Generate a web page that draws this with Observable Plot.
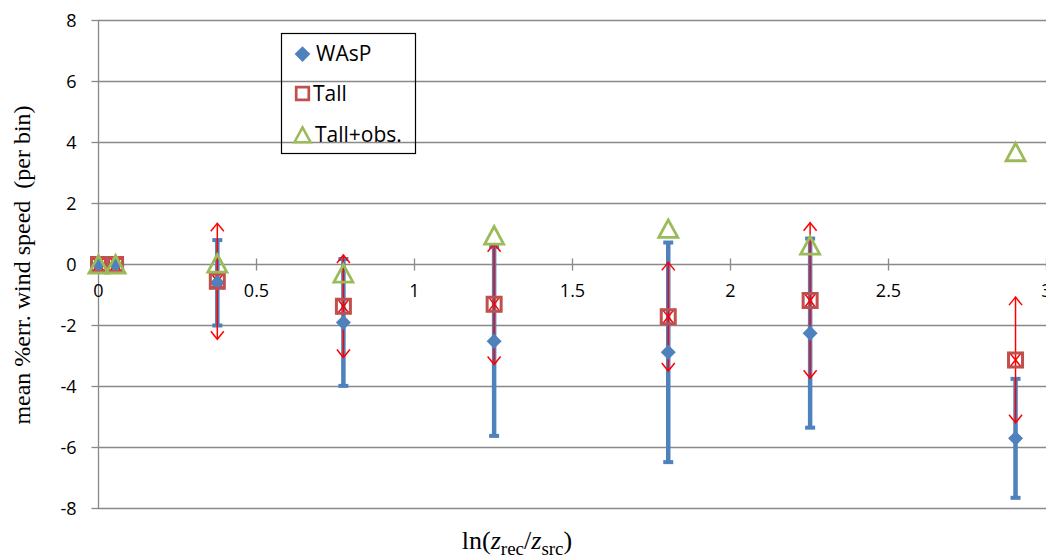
<!DOCTYPE html>
<html><head><meta charset="utf-8">
<script src="https://cdn.jsdelivr.net/npm/d3@7"></script>
<script src="https://cdn.jsdelivr.net/npm/@observablehq/plot@0.6"></script>
<style>body{margin:0;background:#fff} #chart{width:1046px;height:557px}</style>
</head><body><div id="chart"></div>
<script>
// ---- data ----
const xs      = [0, 0.054, 0.376, 0.775, 1.252, 1.803, 2.252, 2.902];
const wasp    = [0, 0, -0.6, -1.9, -2.52, -2.88, -2.25, -5.7];
const waspErr = [0, 0, 1.4, 2.08, 3.1, 3.6, 3.1, 1.95];
const tall    = [0, 0, -0.55, -1.37, -1.3, -1.71, -1.18, -3.13];
const tallErr = [0, 0, 1.9, 1.68, 1.98, 1.78, 2.55, 2.06];
const obs     = [0, 0, 0.03, -0.3, 0.95, 1.17, 0.62, 3.68];
const xTicks  = [0, 0.5, 1, 1.5, 2, 2.5, 3];
const yTicks  = [-8, -6, -4, -2, 0, 2, 4, 6, 8];
const seriesNames = ["WAsP", "Tall", "Tall+obs."];

const rows = xs.map((x, i) => ({x, wasp: wasp[i], waspErr: waspErr[i], tall: tall[i], tallErr: tallErr[i], obs: obs[i]}));

const blue = "#4F81BD", markerRed = "#C0504D", errRed = "#FF0000", green = "#9BBB59", grid = "#898989";

const diamond  = {draw(c){c.moveTo(0,-7.5);c.lineTo(7.5,0);c.lineTo(0,7.5);c.lineTo(-7.5,0);c.closePath();}};
const square   = {draw(c){c.rect(-7,-7,14,14);}};
const triangle = {draw(c){c.moveTo(0,-9);c.lineTo(9.5,8.5);c.lineTo(-9.5,8.5);c.closePath();}};
const chevUp   = {draw(c){c.moveTo(-6.5,8);c.lineTo(0,0);c.lineTo(6.5,8);}};
const chevDown = {draw(c){c.moveTo(-6.5,-8);c.lineTo(0,0);c.lineTo(6.5,-8);}};
const cap      = {draw(c){c.rect(-5,-2,10,4);}};
const vtick    = {draw(c){c.moveTo(0,-6);c.lineTo(0,6);}};
const htick    = {draw(c){c.moveTo(-7,0);c.lineTo(0,0);}};

const chart = Plot.plot({
  width: 1046, height: 557,
  marginLeft: 98, marginRight: 0, marginTop: 20, marginBottom: 49,
  x: {domain: [0, 3], axis: null},
  y: {domain: [-8, 8], axis: null},
  style: {fontFamily: "'Open Sans', sans-serif", fontSize: "18px", background: "#fff", color: "#000", overflow: "visible"},
  marks: [
    Plot.ruleY(yTicks, {stroke: grid, strokeWidth: 1.3}),
    Plot.ruleX([0], {stroke: grid, strokeWidth: 1.3}),
    Plot.dot(yTicks, {x: () => 0, y: d => d, symbol: htick, stroke: grid, strokeWidth: 1.3}),
    Plot.text(yTicks, {x: () => 0, y: d => d, text: d => String(d), textAnchor: "end", dx: -22, dy: 1, fontSize: 18, fill: "#000"}),
    Plot.dot(xTicks, {x: d => d, y: () => 0, symbol: vtick, stroke: grid, strokeWidth: 1.3}),
    Plot.text(xTicks, {x: d => d, y: () => 0, text: d => String(d), dy: 27, fontSize: 18, fill: "#000"}),
    // WAsP error bars
    Plot.ruleX(rows, {x: "x", y1: d => d.wasp - d.waspErr, y2: d => d.wasp + d.waspErr, stroke: blue, strokeWidth: 4.5}),
    Plot.dot(rows, {x: "x", y: d => d.wasp + d.waspErr, symbol: cap, fill: blue}),
    Plot.dot(rows, {x: "x", y: d => d.wasp - d.waspErr, symbol: cap, fill: blue}),
    // Tall error bars (arrows)
    Plot.ruleX(rows, {x: "x", y1: d => d.tall - d.tallErr, y2: d => d.tall + d.tallErr, stroke: errRed, strokeWidth: 1.5}),
    Plot.dot(rows, {x: "x", y: d => d.tall + d.tallErr, symbol: chevUp, fill: "none", stroke: errRed, strokeWidth: 1.5}),
    Plot.dot(rows, {x: "x", y: d => d.tall - d.tallErr, symbol: chevDown, fill: "none", stroke: errRed, strokeWidth: 1.5}),
    Plot.dot(rows, {x: "x", y: "tall", symbol: chevUp, fill: "none", stroke: errRed, strokeWidth: 1.5}),
    Plot.dot(rows, {x: "x", y: "tall", symbol: chevDown, fill: "none", stroke: errRed, strokeWidth: 1.5}),
    // markers
    Plot.dot(rows, {x: "x", y: "wasp", symbol: diamond, fill: blue}),
    Plot.dot(rows, {x: "x", y: "tall", symbol: square, fill: "none", stroke: markerRed, strokeWidth: 3}),
    Plot.dot(rows, {x: "x", y: "obs", symbol: triangle, fill: "none", stroke: green, strokeWidth: 2.8})
  ]
});
document.getElementById("chart").appendChild(chart);

const svg = d3.select(chart);
// y title
svg.append("text")
  .attr("transform", "translate(22,265) rotate(-90)")
  .attr("text-anchor", "middle").attr("dominant-baseline", "central")
  .style("font-family", "'Liberation Serif', serif").style("font-size", "24px").style("white-space", "pre")
  .attr("fill", "#000")
  .text("mean %err. wind speed  (per bin)");
// x title
const xt = svg.append("text").attr("x", 517).attr("y", 549).attr("text-anchor", "middle")
  .style("font-family", "'Liberation Serif', serif").style("font-size", "26px").attr("fill", "#000");
xt.append("tspan").text("ln(");
xt.append("tspan").style("font-style", "italic").text("z");
xt.append("tspan").attr("dy", 6).style("font-size", "19px").text("rec");
xt.append("tspan").attr("dy", -6).text("/");
xt.append("tspan").style("font-style", "italic").text("z");
xt.append("tspan").attr("dy", 6).style("font-size", "19px").text("src");
xt.append("tspan").attr("dy", -6).text(")");

// legend
const lg = svg.append("g");
lg.append("rect").attr("x", 281.5).attr("y", 33.5).attr("width", 134).attr("height", 120)
  .attr("fill", "none").attr("stroke", "#000").attr("stroke-width", 1.2);
const legendItems = [
  {name: seriesNames[0], sym: diamond, fill: blue, stroke: "none", cy: 54, ty: 61, tx: 316, k: 1.05},
  {name: seriesNames[1], sym: square, fill: "none", stroke: markerRed, cy: 93.5, ty: 101, tx: 313, k: 0.9},
  {name: seriesNames[2], sym: triangle, fill: "none", stroke: green, cy: 135, ty: 141.5, tx: 315, k: 0.85}
];
for (const it of legendItems) {
  const p = d3.path(); it.sym.draw(p);
  lg.append("path").attr("d", p.toString())
    .attr("transform", `translate(302.5,${it.cy}) scale(${it.k})`)
    .attr("fill", it.fill).attr("stroke", it.stroke).attr("stroke-width", 3);
  lg.append("text").attr("x", it.tx).attr("y", it.ty).attr("text-anchor", "start")
    .style("font-family", "'Open Sans', sans-serif").style("font-size", "21px").attr("fill", "#000")
    .text(it.name);
}
</script>
</body></html>
